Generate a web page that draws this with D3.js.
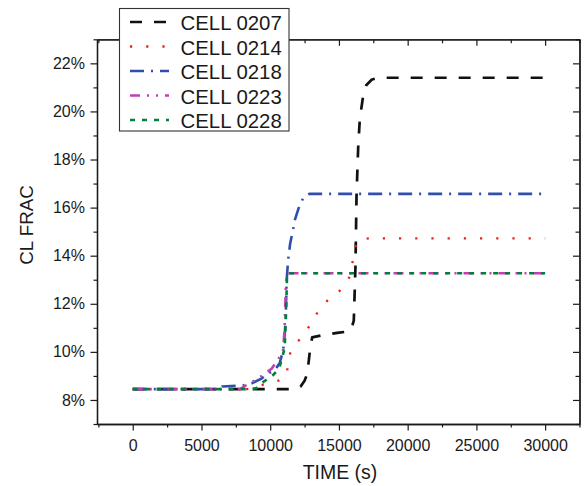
<!DOCTYPE html>
<html>
<head>
<meta charset="utf-8">
<script src="https://cdn.jsdelivr.net/npm/d3@7"></script>
<style>
  html, body { margin: 0; padding: 0; background: #fff; }
  svg { display: block; font-family: "Liberation Sans", Arial, sans-serif; }
</style>
</head>
<body>
<svg id="chart" width="588" height="486"></svg>
<script>
// Cell chlorine fraction (%) against time (s)
const seriesNames = ["CELL 0207", "CELL 0214", "CELL 0218", "CELL 0223", "CELL 0228"];

const cell0207 = [
  [0, 8.45], [11600, 8.45], [12200, 8.55], [12500, 8.8], [12700, 9.1], [12900, 10.1],
  [13050, 10.6], [14000, 10.72], [15000, 10.8], [15700, 10.85], [15900, 10.95],
  [16080, 11.3], [16200, 13.5], [16280, 16.5], [16400, 18.5], [16520, 19.7],
  [16750, 20.6], [17000, 21.1], [17400, 21.33], [17900, 21.4], [30000, 21.4]
];
const cell0214 = [
  [0, 8.45], [8500, 8.45], [9700, 8.68], [10600, 8.8], [11200, 9.0], [11300, 9.6],
  [11550, 10.15], [12150, 10.52], [12750, 10.98], [13250, 11.48], [13800, 11.92],
  [14400, 12.27], [15200, 12.6], [15800, 13.14], [16030, 13.86], [16280, 14.54],
  [16600, 14.7], [17200, 14.72], [30000, 14.72]
];
const cell0218 = [
  [0, 8.45], [6300, 8.45], [6500, 8.56], [8000, 8.6], [8700, 8.7], [9400, 8.9],
  [9800, 9.1], [10300, 9.2], [10700, 9.55], [10950, 10.1], [11070, 10.8],
  [11150, 11.9], [11200, 13.0], [11300, 13.8], [11450, 14.5], [11650, 15.05],
  [11800, 15.5], [12050, 15.95], [12400, 16.4], [12850, 16.57], [30000, 16.57]
];
const cell0223 = [
  [0, 8.45], [7800, 8.45], [8500, 8.7], [9000, 8.85], [9500, 9.05], [10100, 9.3],
  [10600, 9.7], [10950, 10.1], [11050, 11.0], [11100, 12.0], [11150, 12.9],
  [11250, 13.27], [30000, 13.27]
];
const cell0228 = [
  [0, 8.45], [8700, 8.45], [9000, 8.5], [9500, 8.75], [10150, 9.0], [10650, 9.3],
  [11050, 10.15], [11130, 11.2], [11180, 12.2], [11230, 13.27], [30000, 13.27]
];

const xMajorTicks = [0, 5000, 10000, 15000, 20000, 25000, 30000];
const xMinorTicks = [-2500, 2500, 7500, 12500, 17500, 22500, 27500, 32500];
const yMajorTicks = [8, 10, 12, 14, 16, 18, 20, 22];
const yMinorTicks = [7, 9, 11, 13, 15, 17, 19, 21, 23];

const seriesData = [cell0207, cell0214, cell0218, cell0223, cell0228];
const colors = ["#111111", "#f01c1c", "#2f4fae", "#c040b4", "#00803a"];
const dashes = ["12,12", "2.2,14", "14,7,2,7", "10,7,2,7,2,7", "5,7"];
const widths = [2.7, 2.3, 2.6, 2.6, 2.6];

const svg = d3.select("#chart");
const plotLeft = 97, plotRight = 579.5, plotTop = 39.3, plotBottom = 424;

const x = d3.scaleLinear().domain([-2600, 32500]).range([plotLeft, plotRight]);
const y = d3.scaleLinear().domain([7, 23]).range([plotBottom, plotTop]);

const ink = "#1a1a1a";

function styleAxis(g) {
  g.selectAll("path.domain").attr("stroke", ink).attr("stroke-width", 1.3);
  g.selectAll(".tick line").attr("stroke", ink).attr("stroke-width", 1.2);
  g.selectAll("text").attr("fill", ink).attr("font-size", 16)
    .attr("font-family", "'Liberation Sans', Arial, sans-serif");
}

// Curves
const line = d3.line().x(d => x(d[0])).y(d => y(d[1]));
const plot = svg.append("g");
seriesData.forEach((data, i) => {
  plot.append("path")
    .datum(data)
    .attr("d", line)
    .attr("fill", "none")
    .attr("stroke", colors[i])
    .attr("stroke-width", widths[i])
    .attr("stroke-dasharray", dashes[i])
    .attr("stroke-linejoin", "round");
});

// Bottom axis: labelled major ticks and minor ticks, pointing outward
svg.append("g").attr("transform", `translate(0,${plotBottom})`)
  .call(d3.axisBottom(x).tickValues(xMinorTicks).tickSize(3.5).tickSizeOuter(0).tickFormat(""))
  .call(styleAxis);
svg.append("g").attr("transform", `translate(0,${plotBottom})`)
  .call(d3.axisBottom(x).tickValues(xMajorTicks).tickSize(6.5).tickSizeOuter(0)
    .tickPadding(9.5).tickFormat(d3.format("d")))
  .call(styleAxis);

// Left axis
svg.append("g").attr("transform", `translate(${plotLeft},0)`)
  .call(d3.axisLeft(y).tickValues(yMinorTicks).tickSize(3.5).tickSizeOuter(0).tickFormat(""))
  .call(styleAxis);
svg.append("g").attr("transform", `translate(${plotLeft},0)`)
  .call(d3.axisLeft(y).tickValues(yMajorTicks).tickSize(6.5).tickSizeOuter(0)
    .tickPadding(5.5).tickFormat(d => d + "%"))
  .call(styleAxis);

// Top and right axes: unlabelled, ticks pointing inward
svg.append("g").attr("transform", `translate(0,${plotTop})`)
  .call(d3.axisTop(x).tickValues(xMinorTicks).tickSize(-4).tickSizeOuter(0).tickFormat(""))
  .call(styleAxis);
svg.append("g").attr("transform", `translate(0,${plotTop})`)
  .call(d3.axisTop(x).tickValues(xMajorTicks).tickSize(-6.5).tickSizeOuter(0).tickFormat(""))
  .call(styleAxis);
svg.append("g").attr("transform", `translate(${plotRight},0)`)
  .call(d3.axisRight(y).tickValues(yMinorTicks).tickSize(-4).tickSizeOuter(0).tickFormat(""))
  .call(styleAxis);
svg.append("g").attr("transform", `translate(${plotRight},0)`)
  .call(d3.axisRight(y).tickValues(yMajorTicks).tickSize(-6.5).tickSizeOuter(0).tickFormat(""))
  .call(styleAxis);

// Axis titles
svg.append("text")
  .attr("x", 340).attr("y", 479)
  .attr("text-anchor", "middle")
  .attr("font-size", 19.5).attr("fill", ink)
  .text("TIME (s)");
svg.append("text")
  .attr("transform", "translate(33,225) rotate(-90)")
  .attr("text-anchor", "middle")
  .attr("font-size", 18.8).attr("fill", ink)
  .text("CL FRAC");

// Legend
const legend = svg.append("g");
legend.append("rect")
  .attr("x", 119.5).attr("y", 8.5).attr("width", 169.5).attr("height", 122.5)
  .attr("fill", "#fff").attr("stroke", "#333").attr("stroke-width", 1.1);
seriesNames.forEach((name, i) => {
  const base = 30 + i * 24.5;
  legend.append("line")
    .attr("x1", 130).attr("x2", 169)
    .attr("y1", base - 8).attr("y2", base - 8)
    .attr("stroke", colors[i])
    .attr("stroke-width", widths[i])
    .attr("stroke-dasharray", dashes[i]);
  legend.append("text")
    .attr("x", 180.5).attr("y", base)
    .attr("font-size", 20.4).attr("fill", ink)
    .text(name);
});
</script>
</body>
</html>
